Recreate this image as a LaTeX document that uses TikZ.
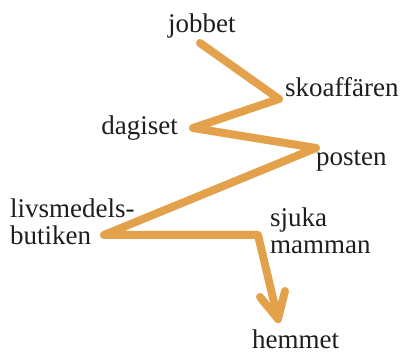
\documentclass[tikz,border=0pt]{standalone}
\usepackage{fontspec}
\setmainfont{Liberation Serif}
\definecolor{routeorange}{RGB}{228,161,76}
\definecolor{labelgray}{RGB}{30,30,30}
\tikzset{
  lbl/.style={inner sep=0pt, text=labelgray, font=\fontsize{27}{27}\selectfont, align=left},
  route/.style={draw=routeorange, line width=8pt, line cap=round, line join=round},
}
\begin{document}
\begin{tikzpicture}[x=1pt,y=-1pt]
\useasboundingbox (0,0) rectangle (400,352);
% route corners
\coordinate (p1) at (200,43);
\coordinate (p2) at (279,99);
\coordinate (p3) at (193,128);
\coordinate (p4) at (316,148);
\coordinate (p5) at (104,235);
\coordinate (p6) at (258,235);
\coordinate (p7) at (278,319);
\coordinate (w1) at (260,297);
\coordinate (w2) at (285,291);
% labels
\node[lbl, anchor=base west] (jobbet) at (168,33) {jobbet};
\node[lbl, anchor=base west] (sko) at (285,97) {skoaffären};
\node[lbl, anchor=base east] (dagis) at (178,135) {dagiset};
\node[lbl, anchor=base west] (posten) at (316,166) {posten};
\node[lbl, anchor=base west] (livs) at (10,245) {livsmedels-\\butiken};
\node[lbl, anchor=base west] (sjuka) at (270,254) {sjuka\\mamman};
\node[lbl, anchor=base west] (hemmet) at (252,349) {hemmet};
% route
\draw[route] (p1) -- (p2) -- (p3) -- (p4) -- (p5) -- (p6) -- (p7);
\draw[route] (w1) -- (p7) -- (w2);
\end{tikzpicture}
\end{document}
